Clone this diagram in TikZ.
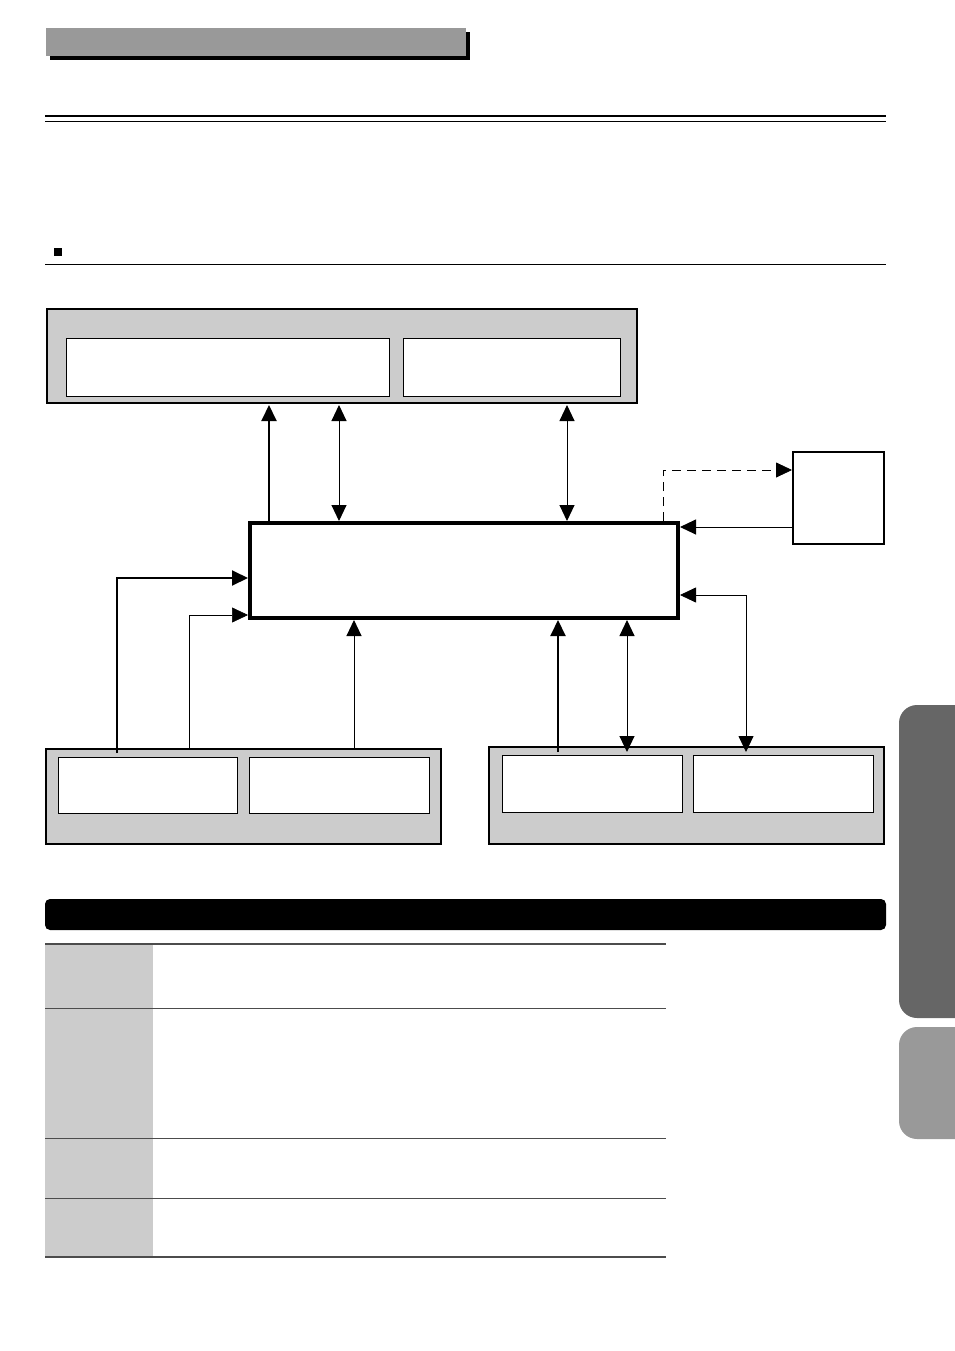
\documentclass[tikz,border=0pt]{standalone}
\usetikzlibrary{arrows.meta}
\tikzset{panel/.style={draw,line width=2.8pt,fill=black!20},}
\tikzset{inbox/.style={draw,line width=0.6pt,fill=white},}
\tikzset{link/.style={line width=1pt,-{Triangle[length=16pt,width=15pt]}},}
\tikzset{biLink/.style={line width=1pt,{Triangle[length=16pt,width=15pt]}-{Triangle[length=16pt,width=15pt]}},}
\begin{document}
\begin{tikzpicture}[x=1pt,y=-1pt]
       \useasboundingbox (0,0) rectangle (954,1351);
       % heading
       \fill (50,32) rectangle (470,60);
       \fill[black!40] (46,28) rectangle (466,56);
       \draw[line width=2.5pt] (45,116) -- (886,116);
       \draw[line width=0.8pt] (45,121) -- (886,121);
       \fill (54,248) rectangle (62,256);
       \draw[line width=0.6pt] (45,264) -- (886,264);
       % blocks
       \draw[panel] (47,309) rectangle (637,403);
       \draw[inbox] (66,338) rectangle (389,396);
       \draw[inbox] (403,338) rectangle (620,396);
       \draw[panel] (46,749) rectangle (441,844);
       \draw[inbox] (58,757) rectangle (237,813);
       \draw[inbox] (249,757) rectangle (429,813);
       \draw[panel] (489,747) rectangle (884,844);
       \draw[inbox] (502,755) rectangle (682,812);
       \draw[inbox] (693,755) rectangle (873,812);
       \draw[line width=3.8pt,fill=white] (250,523) rectangle (678,618);
       \draw[line width=2.8pt,fill=white] (793,452) rectangle (884,544);
       % links
       \draw[link,line width=2pt] (269,521) -- (269,405);
       \draw[biLink] (339,405) -- (339,521);
       \draw[biLink] (567,405) -- (567,521);
       \draw[link,dash pattern=on 9pt off 6pt,line width=0.8pt] (663,521) -- (663,470) -- (792,470);
       \draw[link] (792,527) -- (680,527);
       \draw[biLink,line width=0.8pt] (680,595) -- (746,595) -- (746,752);
       \draw[biLink] (627,620) -- (627,752);
       \draw[link,line width=2pt] (558,752) -- (558,620);
       \draw[link] (354,749) -- (354,620);
       \draw[link,line width=2pt] (117,753) -- (117,578) -- (248,578);
       \draw[link,line width=0.6pt] (189,749) -- (189,615) -- (248,615);
       % table
       \fill[rounded corners=5pt] (45,899) rectangle (886,930);
       \fill[black!20] (45,944) rectangle (153,1257);
       \draw[black!70,line width=2pt] (45,944) -- (666,944);
       \draw[black!70,line width=1pt] (45,1008) -- (666,1008);
       \draw[black!70,line width=1pt] (45,1138) -- (666,1138);
       \draw[black!70,line width=0.6pt] (45,1198) -- (666,1198);
       \draw[black!70,line width=2pt] (45,1257) -- (666,1257);
       % side tabs
       \fill[black!60,rounded corners=18pt] (899,705) rectangle (980,1018);
       \fill[black!40,rounded corners=18pt] (899,1027) rectangle (980,1139);
\end{tikzpicture}
\end{document}
